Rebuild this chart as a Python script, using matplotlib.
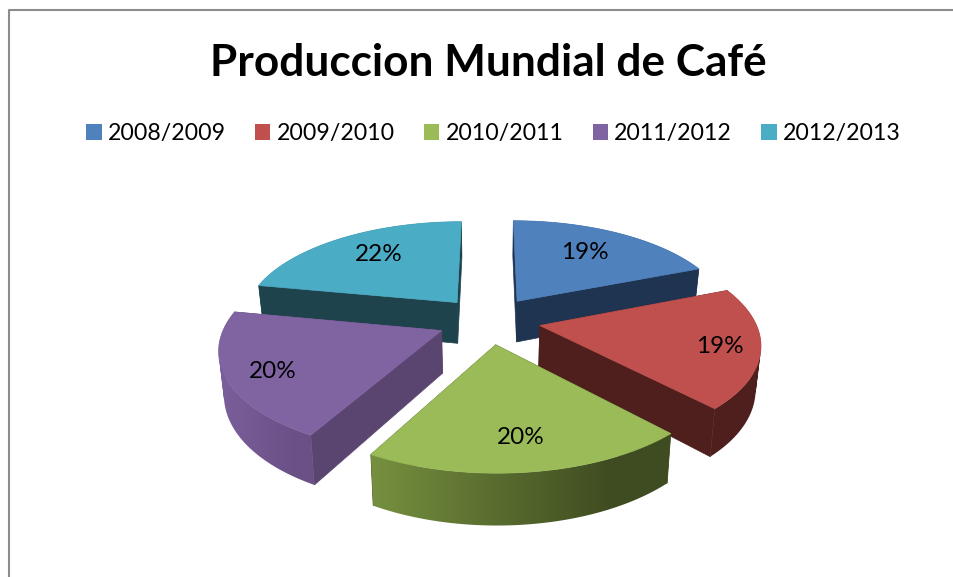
import numpy as np
import matplotlib
matplotlib.use("Agg")
import matplotlib.pyplot as plt
from matplotlib.patches import Patch, Polygon
from matplotlib.path import Path
from matplotlib.colors import to_rgb

seasons = ["2008/2009", "2009/2010", "2010/2011", "2011/2012", "2012/2013"]
shares = [19, 19, 20, 20, 22]

top_colors = ["#4f81bd", "#c0504d", "#9bbb59", "#8064a2", "#4bacc6"]
face_colors = ["#1f3450", "#4f1f1e", "#3f4c21", "#5a4570", "#1e434c"]
side_left = ["#1f3450", "#4f1f1e", "#76903f", "#7b5f9c", "#1e434c"]
side_right = ["#1f3450", "#4f1f1e", "#3f4c21", "#6a5085", "#1e434c"]
label_r = [0.70, 0.82, 0.75, 0.80, 0.72]
label_turn = [-2.6, 0, 0, -1.5, 3.6]

# projection of the tilted pie, in pixels
CX, CY = 489, 320.3
AX, AY = 215, 99
K = 0.16
EXPLODE = 0.24
DEPTH = 42
SHRINK = 0.98


def project(X, Y):
    s = 1 / (1 + K * Y)
    return CX + AX * X * s, CY - AY * Y * s, s


def lower(x, y, s):
    return CX + (x - CX) * SHRINK, y + DEPTH * s


def wedge_point(a, r, b):
    X = EXPLODE * np.sin(b) + r * np.sin(a)
    Y = EXPLODE * np.cos(b) + r * np.cos(a)
    return project(X, Y)


def rim_path(xs, ys, bx, by):
    # one quad per arc step, all wound the same way so that they fill as a union
    quads = []
    for k in range(len(xs) - 1):
        q = np.array([(xs[k], ys[k]), (xs[k + 1], ys[k + 1]),
                      (bx[k + 1], by[k + 1]), (bx[k], by[k]), (xs[k], ys[k])])
        area = np.sum(q[:-1, 0] * q[1:, 1] - q[1:, 0] * q[:-1, 1])
        if area < 0:
            q = q[::-1]
        quads.append(Path(q, closed=True))
    return Path.make_compound_path(*quads)


def draw_wedge(ax, a0, a1, i):
    b = (a0 + a1) / 2
    angs = np.linspace(a0, a1, 90)
    ax_, ay_, as_ = wedge_point(0, 0, b)
    xs, ys, ss = wedge_point(angs, 1, b)
    bx, by = lower(xs, ys, ss)
    abx, aby = lower(ax_, ay_, as_)

    # radial faces
    for k in (0, -1):
        ax.add_patch(Polygon([(ax_, ay_), (xs[k], ys[k]), (bx[k], by[k]), (abx, aby)],
                             fc=face_colors[i], ec=face_colors[i], lw=0.5))

    # outer rim, shaded left to right through a clipped gradient
    c0, c1 = np.array(to_rgb(side_left[i])), np.array(to_rgb(side_right[i]))
    t = np.clip(np.linspace(0, 1, 256) * 1.25, 0, 1)
    grad = (c0 + (c1 - c0) * t[:, None])[None, :, :]
    left, right = min(xs.min(), bx.min()), max(xs.max(), bx.max())
    # same zorder as the patches, or every image would land under all of them
    im = ax.imshow(grad, extent=(left, right, by.max(), ys.min()), aspect="auto",
                   interpolation="bilinear", zorder=1)
    im.set_clip_path(rim_path(xs, ys, bx, by), ax.transData)

    top = [(ax_, ay_)] + list(zip(xs, ys))
    ax.add_patch(Polygon(top, fc=top_colors[i], ec=top_colors[i], lw=0.5))

    lb = b + np.radians(label_turn[i])
    X = EXPLODE * np.sin(b) + label_r[i] * np.sin(lb)
    Y = EXPLODE * np.cos(b) + label_r[i] * np.cos(lb)
    lx, ly, _ = project(X, Y)
    return lx, ly + 2


plt.rcParams["font.family"] = ["Lato", "DejaVu Sans"]
fig = plt.figure(figsize=(9.54, 5.77), dpi=100)
ax = fig.add_axes([0, 0, 1, 1])
ax.axis("off")

# chart frame, cut by the right and bottom of the screenshot
ax.plot([9, 9, 954], [577, 9.5, 9.5], color="#8c8c8c", lw=1.5)

ax.text(488, 63, "Produccion Mundial de Café", ha="center", va="center",
        fontsize=31.8, fontweight="bold", color="black")

edges = np.radians(np.cumsum([0] + shares) * 360 / sum(shares))
labels = {}
for i in [4, 0, 3, 1, 2]:
    labels[i] = draw_wedge(ax, edges[i], edges[i + 1], i)
for i in range(len(shares)):
    ax.text(labels[i][0], labels[i][1], f"{shares[i]}%", ha="center", va="center",
            fontsize=17.5, color="black")

# imshow resets the limits, so set them last
ax.set_xlim(0, 954)
ax.set_ylim(577, 0)

handles = [Patch(fc=c, ec="none", label=s) for c, s in zip(top_colors, seasons)]
ax.legend(handles=handles, ncol=5, loc="center", bbox_to_anchor=(493.5, 133.5),
          bbox_transform=ax.transData, frameon=False, fontsize=16.7,
          handlelength=0.65, handleheight=0.65, handletextpad=0.27, columnspacing=1.27,
          borderpad=0, borderaxespad=0)

fig.savefig("out.png", dpi=100)
